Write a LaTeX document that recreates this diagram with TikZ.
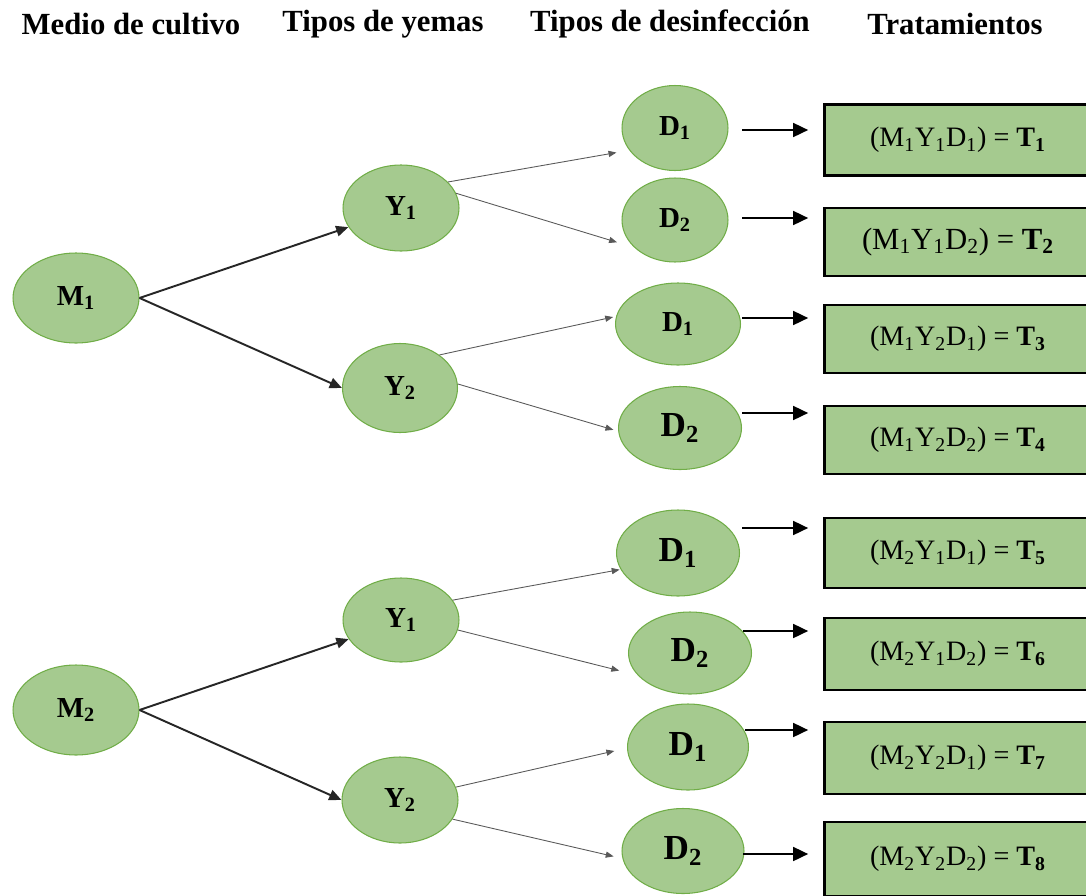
\documentclass[tikz,border=0pt]{standalone}
\usepackage{fontspec}
\setmainfont{Liberation Serif}
\usetikzlibrary{arrows.meta,shapes.geometric,calc}
\definecolor{leafgreen}{RGB}{165,202,143}
\definecolor{rimgreen}{RGB}{112,173,71}

\tikzset{
  coltitle/.style={font=\bfseries\fontsize{17.5}{20}\selectfont},
  factor/.style={ellipse,draw=rimgreen,fill=leafgreen,line width=0.6pt,inner sep=0pt,
    font=\bfseries\fontsize{16.5}{18}\selectfont},
  bigfactor/.style={factor,font=\bfseries\fontsize{20}{22}\selectfont},
  treatbox/.style={rectangle,draw=black,fill=leafgreen,line width=1.6pt,
    minimum width=5.34cm,font=\fontsize{16}{18}\selectfont},
  toyema/.style={-{Triangle[length=7pt,width=6pt]},line width=1.1pt,black!85},
  todesinf/.style={-{Triangle[length=4.5pt,width=3.5pt]},line width=0.5pt,gray!70!black},
  totrat/.style={-{Triangle[length=8.5pt,width=8pt]},line width=0.8pt,black}
}
\newcommand{\sub}[1]{\textsubscript{#1}}

\begin{document}
\begin{tikzpicture}[x=0.02cm,y=-0.02cm]
  \useasboundingbox (0,0) rectangle (1086,896);

  % column titles
  \node[coltitle] (h1) at (131,24) {Medio de cultivo};
  \node[coltitle] (h2) at (383,24) {Tipos de yemas};
  \node[coltitle] (h3) at (670,24) {Tipos de desinfección};
  \node[coltitle] (h4) at (955,24) {Tratamientos};

  % medio de cultivo
  \node[factor,minimum width=2.52cm,minimum height=1.8cm] (m1) at (76,298) {M\sub{1}};
  \node[factor,minimum width=2.52cm,minimum height=1.8cm] (m2) at (76,710) {M\sub{2}};

  % yemas
  \node[factor,minimum width=2.32cm,minimum height=1.72cm] (y1a) at (401,208) {Y\sub{1}};
  \node[factor,minimum width=2.30cm,minimum height=1.78cm] (y2a) at (400,388) {Y\sub{2}};
  \node[factor,minimum width=2.32cm,minimum height=1.68cm] (y1b) at (401,620) {Y\sub{1}};
  \node[factor,minimum width=2.32cm,minimum height=1.72cm] (y2b) at (400,800) {Y\sub{2}};

  % desinfeccion
  \node[factor,minimum width=2.12cm,minimum height=1.7cm] (d1a) at (675,128) {D\sub{1}};
  \node[factor,minimum width=2.12cm,minimum height=1.68cm] (d2a) at (675,220) {D\sub{2}};
  \node[factor,minimum width=2.5cm,minimum height=1.64cm] (d1b) at (678,324) {D\sub{1}};
  \node[bigfactor,minimum width=2.46cm,minimum height=1.66cm] (d2b) at (680,428) {D\sub{2}};
  \node[bigfactor,minimum width=2.46cm,minimum height=1.72cm] (d1c) at (678,553) {D\sub{1}};
  \node[bigfactor,minimum width=2.46cm,minimum height=1.64cm] (d2c) at (690,653) {D\sub{2}};
  \node[bigfactor,minimum width=2.42cm,minimum height=1.72cm] (d1d) at (688,747) {D\sub{1}};
  \node[bigfactor,minimum width=2.44cm,minimum height=1.7cm] (d2d) at (683,851) {D\sub{2}};

  % tratamientos
  \node[treatbox,minimum height=1.42cm] (t1) at (958,140) {(M\sub{1}Y\sub{1}D\sub{1}) = \textbf{T\sub{1}}};
  \node[treatbox,minimum height=1.36cm,font=\fontsize{17.5}{19}\selectfont] (t2) at (958,242) {(M\sub{1}Y\sub{1}D\sub{2}) = \textbf{T\sub{2}}};
  \node[treatbox,minimum height=1.36cm] (t3) at (958,339) {(M\sub{1}Y\sub{2}D\sub{1}) = \textbf{T\sub{3}}};
  \node[treatbox,minimum height=1.36cm] (t4) at (958,440) {(M\sub{1}Y\sub{2}D\sub{2}) = \textbf{T\sub{4}}};
  \node[treatbox,minimum height=1.40cm] (t5) at (958,553) {(M\sub{2}Y\sub{1}D\sub{1}) = \textbf{T\sub{5}}};
  \node[treatbox,minimum height=1.44cm] (t6) at (958,654) {(M\sub{2}Y\sub{1}D\sub{2}) = \textbf{T\sub{6}}};
  \node[treatbox,minimum height=1.44cm] (t7) at (958,758) {(M\sub{2}Y\sub{2}D\sub{1}) = \textbf{T\sub{7}}};
  \node[treatbox,minimum height=1.48cm] (t8) at (958,859) {(M\sub{2}Y\sub{2}D\sub{2}) = \textbf{T\sub{8}}};

  % medio -> yemas
  \draw[toyema] (m1.east) -- (y1a.200);
  \draw[toyema] (m1.east) -- (y2a.west);
  \draw[toyema] (m2.east) -- (y1b.200);
  \draw[toyema] (m2.east) -- (y2b.west);

  % yemas -> desinfeccion
  \draw[todesinf,shorten >=0.26cm] (y1a.29) -- (d1a.206);
  \draw[todesinf,shorten >=0.36cm] (y1a.15) -- (d2a.214);
  \draw[todesinf,shorten >=0.06cm] (y2a.40) -- (d1b.173);
  \draw[todesinf,shorten >=0.1cm] (y2a.4) -- (d2b.183);
  \draw[todesinf,shorten >=0.02cm] (y1b.21) -- (d1c.196);
  \draw[todesinf,shorten >=0.38cm] (y1b.-10) -- (d2c.203);
  \draw[todesinf,shorten >=0.26cm] (y2b.13) -- (d1d.181);
  \draw[todesinf,shorten >=0.18cm] (y2b.-20) -- (d2d.187);

  % desinfeccion -> tratamientos
  \coordinate (a1) at (742,130);
  \coordinate (a2) at (742,218);
  \coordinate (a3) at (742,318);
  \coordinate (a4) at (742,413);
  \coordinate (a5) at (742,528);
  \coordinate (a6) at (743,631);
  \coordinate (a7) at (745,730);
  \coordinate (a8) at (743,854);
  \foreach \k in {1,...,8}
    \draw[totrat,shorten >=0.3cm] (a\k) -- (a\k -| t\k.west);
\end{tikzpicture}
\end{document}
